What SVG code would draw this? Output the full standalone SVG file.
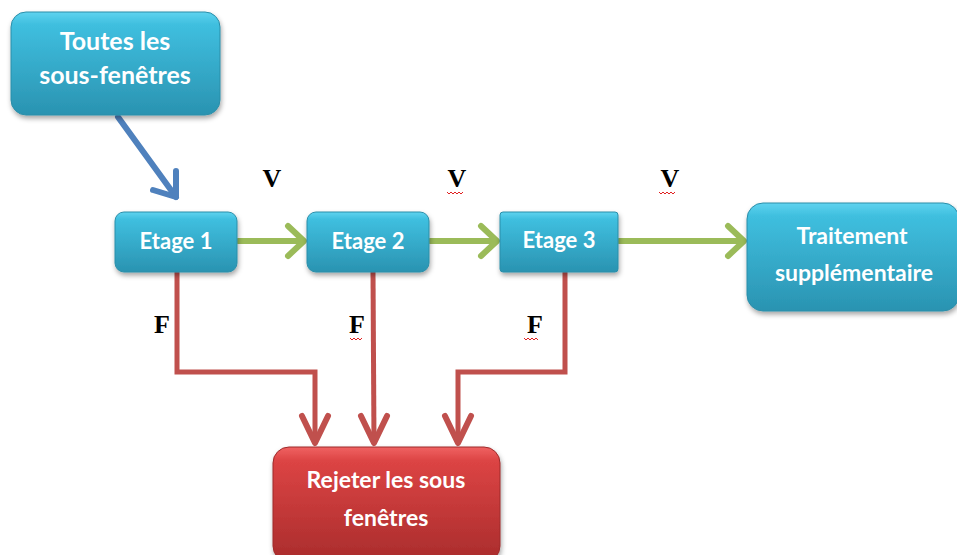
<svg xmlns="http://www.w3.org/2000/svg" width="957" height="555" viewBox="0 0 957 555">
<defs>
<linearGradient id="gc" x1="0" y1="0" x2="0" y2="1">
<stop offset="0" stop-color="#5fd3ef"/>
<stop offset="0.12" stop-color="#3fbfdf"/>
<stop offset="1" stop-color="#2a93b1"/>
</linearGradient>
<linearGradient id="gr" x1="0" y1="0" x2="0" y2="1">
<stop offset="0" stop-color="#f06262"/>
<stop offset="0.12" stop-color="#dc4444"/>
<stop offset="1" stop-color="#a92c2c"/>
</linearGradient>
<filter id="sh" x="-20%" y="-20%" width="140%" height="150%">
<feDropShadow dx="1" dy="3" stdDeviation="2.5" flood-color="#000" flood-opacity="0.35"/>
</filter>
</defs>
<style>
.cy{fill:url(#gc);stroke:#2b8ea9;stroke-width:1;filter:url(#sh)}
.rd{fill:url(#gr);stroke:#9e2a2a;stroke-width:1;filter:url(#sh)}
.t{font-family:Lato,"Open Sans","Liberation Sans",sans-serif;font-weight:bold;fill:#fff;text-anchor:middle}
.lb{font-family:"Liberation Serif",serif;font-weight:bold;font-size:26px;fill:#000;text-anchor:middle}
.g{fill:none;stroke:#9bbb59;stroke-width:6;stroke-linecap:round;stroke-linejoin:round}
.r{fill:none;stroke:#c0504d;stroke-width:5;stroke-linejoin:miter}
.rh{fill:none;stroke:#c0504d;stroke-width:6;stroke-linecap:round;stroke-linejoin:round}
.b{fill:none;stroke:#4f81bd;stroke-width:6;stroke-linecap:round;stroke-linejoin:round}
.sq{fill:none;stroke:#e02020;stroke-width:1}
</style>
<g id="connectors">
<path class="b" d="M118 117 L176 197"/>
<path class="b" d="M153 190 L176 197 L176 171"/>
<path class="g" d="M238 241 L303 241"/>
<path class="g" d="M288 226 L304 241 L288 256"/>
<path class="g" d="M430 241 L496 241"/>
<path class="g" d="M481 226 L497 241 L481 256"/>
<path class="g" d="M619 241 L743 241"/>
<path class="g" d="M728 226 L744 241 L728 256"/>
<path class="r" d="M177 272 L177 372 L315 372 L315 443"/>
<path class="rh" d="M302 416 L315 443 L328 416"/>
<path class="r" d="M373 272 L374 443"/>
<path class="rh" d="M361 416 L374 443 L387 416"/>
<path class="r" d="M565 272 L565 372 L458 372 L458 443"/>
<path class="rh" d="M445 416 L458 443 L471 416"/>
</g>
<g id="labels">
<text class="lb" x="272" y="187">V</text>
<text class="lb" x="457" y="187">V</text>
<text class="lb" x="670" y="187">V</text>
<text class="lb" x="162" y="333">F</text>
<text class="lb" x="357" y="333">F</text>
<text class="lb" x="535" y="333">F</text>
<path class="sq" d="M447 192 l2 2 l2 -2 l2 2 l2 -2 l2 2 l2 -2 l2 2 l2 -2"/>
<path class="sq" d="M659 192 l2 2 l2 -2 l2 2 l2 -2 l2 2 l2 -2 l2 2 l2 -2"/>
<path class="sq" d="M350 338 l2 2 l2 -2 l2 2 l2 -2 l2 2 l2 -2"/>
<path class="sq" d="M524 338 l2 2 l2 -2 l2 2 l2 -2 l2 2 l2 -2 l2 2"/>
</g>
<g id="n-toutes">
<rect class="cy" x="11" y="12" width="209" height="103" rx="15"/>
<text class="t" font-size="25" x="115" y="50">Toutes les</text>
<text class="t" font-size="25" x="115" y="84">sous-fenêtres</text>
</g>
<g id="n-etage1">
<rect class="cy" x="115" y="212" width="122" height="60" rx="9"/>
<text class="t" font-size="22" x="176" y="249">Etage 1</text>
</g>
<g id="n-etage2">
<rect class="cy" x="307" y="212" width="122" height="60" rx="9"/>
<text class="t" font-size="22" x="368" y="249">Etage 2</text>
</g>
<g id="n-etage3">
<rect class="cy" x="500" y="212" width="118" height="60" rx="3"/>
<text class="t" font-size="22" x="559" y="248">Etage 3</text>
</g>
<g id="n-traitement">
<rect class="cy" x="747" y="203" width="212" height="108" rx="16"/>
<text class="t" font-size="23" x="852" y="244">Traitement</text>
<text class="t" font-size="23" x="854" y="281">supplémentaire</text>
</g>
<g id="n-rejeter">
<rect class="rd" x="273" y="447" width="227" height="115" rx="16"/>
<text class="t" font-size="23" x="386" y="488">Rejeter les sous</text>
<text class="t" font-size="23" x="386" y="526">fenêtres</text>
</g>
</svg>
